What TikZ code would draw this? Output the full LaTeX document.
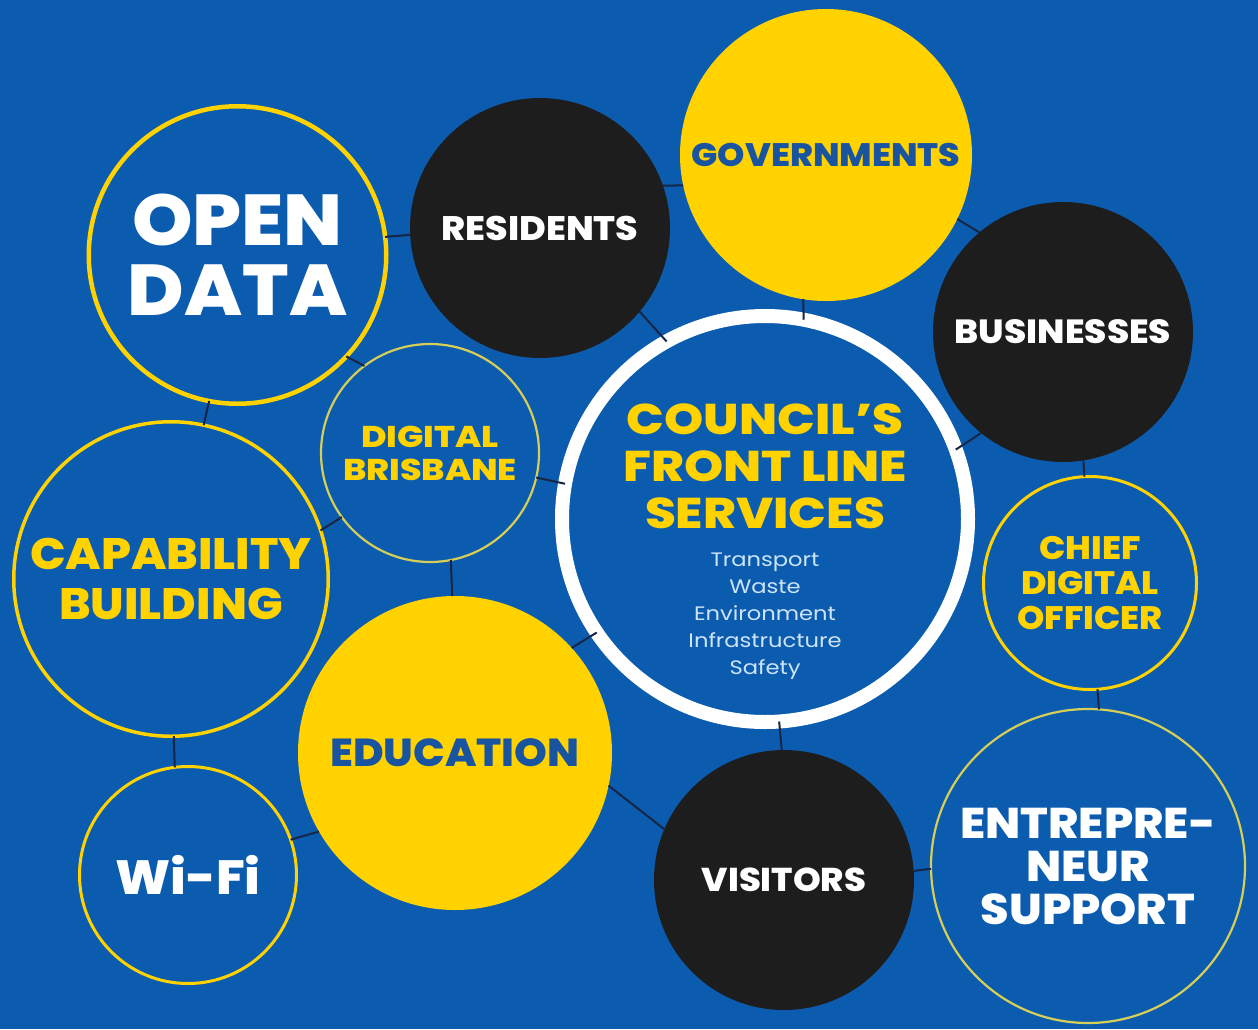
\documentclass[tikz,border=0pt]{standalone}
\usepackage{fontspec}
\setmainfont{Poppins}[BoldFont={* ExtraBold}, BoldFeatures={FakeStretch=1.07}]
\newfontfamily\widefont{Poppins}[FakeStretch=1.16, BoldFont={* ExtraBold}]
\usepackage{tikz}
\usetikzlibrary{positioning}

\definecolor{bneblue}{RGB}{11,92,175}
\definecolor{bneyellow}{RGB}{255,210,0}
\definecolor{paleyellow}{RGB}{214,206,86}
\definecolor{bneblack}{RGB}{30,29,29}
\definecolor{linkcol}{RGB}{22,38,70}
\definecolor{textblue}{RGB}{24,84,160}
\definecolor{softwhite}{RGB}{205,228,248}

\begin{document}
\begin{tikzpicture}[x=1pt,y=-1pt,
  bubble/.style={circle, inner sep=0pt, outer sep=0pt, align=center},
  ringed/.style={bubble, draw=bneyellow, fill=bneblue},
  thinring/.style={bubble, draw=paleyellow, fill=bneblue, line width=2.2pt},
  darkdot/.style={bubble, fill=bneblack, text=white},
  yellowdot/.style={bubble, fill=bneyellow, text=textblue},
  link/.style={draw=linkcol, line width=2pt}]

% background
\fill[bneblue] (0,0) rectangle (1258,1029);
\useasboundingbox (0,0) rectangle (1258,1029);

% open data
\node[ringed, line width=4.5pt, minimum size=297.5pt, text=white,
  font=\bfseries\fontsize{72}{70}\selectfont] (opendata) at (237.5,255) {OPEN\\DATA};

% residents
\node[darkdot, minimum size=260pt, font=\bfseries\fontsize{34}{34}\selectfont] (residents) at (540,228) {RESIDENTS};

% governments
\node[yellowdot, minimum size=292pt, font=\bfseries\fontsize{32.5}{33}\selectfont] (govts) at (826,155) {GOVERNMENTS};

% businesses
\node[darkdot, minimum size=260pt, font=\bfseries\fontsize{33.5}{33}\selectfont] (business) at (1063,332) {BUSINESSES};

% council's front line services
\node[bubble, draw=white, fill=bneblue, line width=14pt, minimum size=406pt] (council) at (765,519) {};
\node[inner sep=0pt, align=center, text=bneyellow,
  font=\widefont\bfseries\fontsize{43}{47}\selectfont] (counciltitle) at (765,466) {COUNCIL’S\\FRONT LINE\\SERVICES};
\node[inner sep=0pt, align=center, text=softwhite, below=24pt of counciltitle,
  font=\widefont\fontsize{19.5}{27}\selectfont] (councilservices) {Transport\\Waste\\Environment\\Infrastructure\\Safety};

% digital brisbane
\node[thinring, minimum size=218pt, text=bneyellow,
  font=\widefont\bfseries\fontsize{30}{33}\selectfont] (digital) at (430,453) {DIGITAL\\BRISBANE};

% chief digital officer
\node[ringed, line width=3pt, minimum size=213pt, text=bneyellow,
  font=\bfseries\fontsize{32.5}{35}\selectfont] (cdo) at (1090,583) {CHIEF\\DIGITAL\\OFFICER};

% capability building
\node[ringed, line width=3.5pt, minimum size=314.5pt, text=bneyellow,
  font=\bfseries\fontsize{44}{50}\selectfont] (capability) at (171,579) {CAPABILITY\\BUILDING};

% education
\node[yellowdot, minimum size=314pt, font=\bfseries\fontsize{39}{39}\selectfont] (education) at (455,753) {EDUCATION};

% wi-fi
\node[ringed, line width=3pt, minimum size=217pt, text=white,
  font=\bfseries\fontsize{48}{48}\selectfont] (wifi) at (188,875) {Wi-Fi};

% visitors
\node[darkdot, minimum size=260pt, font=\bfseries\fontsize{33}{33}\selectfont] (visitors) at (784,880) {VISITORS};

% entrepreneur support
\node[thinring, minimum size=314pt, text=white,
  font=\bfseries\fontsize{43}{43}\selectfont] (entre) at (1088,866) {ENTREPRE-\\NEUR\\SUPPORT};

% links between the bubbles
\draw[link] (opendata.7.6) -- (residents.183);
\draw[link] (residents.19) -- (govts.192);
\draw[link] (govts.-26) -- (business.130);
\draw[link] (govts.261) -- (council.79.6);
\draw[link] (residents.-40) -- (council.119.3);
\draw[link] (business.231) -- (council.20.2);
\draw[link] (business.-81) -- (cdo.93);
\draw[link] (cdo.-86) -- (entre.86.7);
\draw[link] (visitors.4.4) -- (entre.181.5);
\draw[link] (council.-86) -- (visitors.91.8);
\draw[link] (education.-12.6) -- (visitors.157.9);
\draw[link] (education.42.5) -- (council.214.5);
\draw[link] (digital.-13.2) -- (council.170.7);
\draw[link] (digital.-79) -- (education.91.5);
\draw[link] (opendata.-43) -- (digital.127.6);
\draw[link] (opendata.259) -- (capability.78.5);
\draw[link] (capability.18.2) -- (digital.216.3);
\draw[link] (capability.-89) -- (wifi.97);
\draw[link] (wifi.19.4) -- (education.210);

\end{tikzpicture}
\end{document}
